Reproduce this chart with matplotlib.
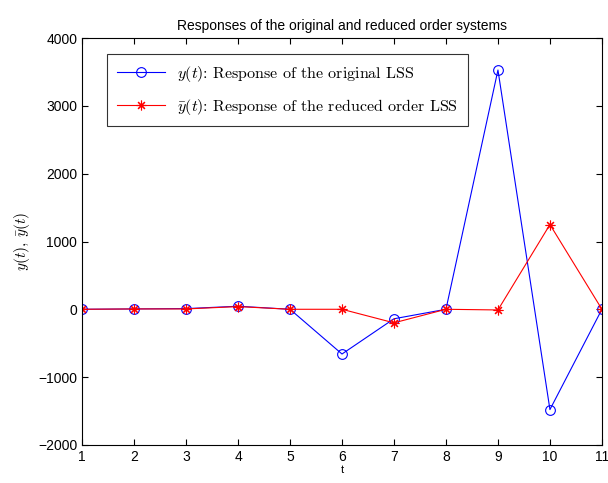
import matplotlib
matplotlib.use("Agg")
import matplotlib.pyplot as plt

plt.rcParams['mathtext.fontset'] = 'cm'
plt.rcParams['font.family'] = ['Liberation Sans', 'DejaVu Sans']

t = [1, 2, 3, 4, 5, 6, 7, 8, 9, 10, 11]
y_orig = [0, 5, 10, 45, 0, -660, -140, 0, 3530, -1480, 0]
y_red = [0, 5, 5, 40, 0, 0, -200, 0, -10, 1250, 0]
xticks = [1, 2, 3, 4, 5, 6, 7, 8, 9, 10, 11]
yticks = [-2000, -1000, 0, 1000, 2000, 3000, 4000]

fig = plt.figure(figsize=(6.08, 4.83), dpi=100)
ax = fig.add_axes([0.135, 0.079, 0.855, 0.842])
ax.plot(t, y_orig, color='blue', lw=0.8, marker='o', ms=7, mfc='none', mec='blue', mew=0.8,
        label=r'$y(t)$: Response of the original LSS')
ax.plot(t, y_red, color='red', lw=0.8, marker=(8, 2, 0), ms=7, mfc='red', mec='red', mew=0.8,
        label=r'$\bar{y}(t)$: Response of the reduced order LSS')
ax.set_xlim(1, 11)
ax.set_ylim(-2000, 4000)
ax.set_xticks(xticks)
ax.set_yticks(yticks)
ax.tick_params(direction='in', top=True, right=True, labelsize=10, length=4)
ax.set_xlabel('t', fontsize=8, labelpad=1)
ax.set_ylabel(r'$y(t),\,\bar{y}(t)$', fontsize=11)
ax.set_title('Responses of the original and reduced order systems', fontsize=10)
leg = ax.legend(loc='upper left', bbox_to_anchor=(0.033, 0.98), fancybox=False, edgecolor='black',
                prop={'family': 'cmr10', 'size': 11.5}, handlelength=3, borderpad=0.6, labelspacing=0.8)
leg.get_frame().set_linewidth(0.8)
fig.savefig('out.png', dpi=100)
